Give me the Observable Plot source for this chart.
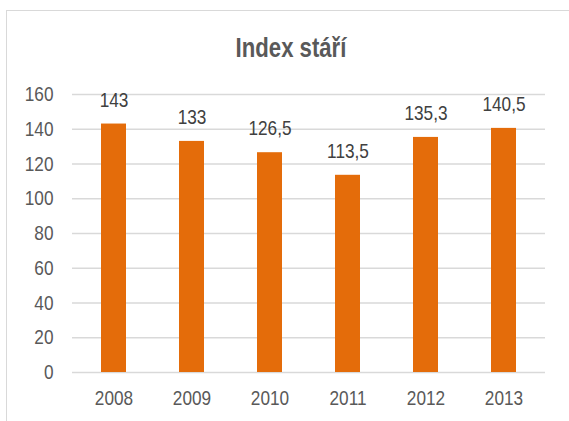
<!DOCTYPE html>
<html>
<head>
<meta charset="utf-8">
<script src="https://cdn.jsdelivr.net/npm/d3@7"></script>
<script src="https://cdn.jsdelivr.net/npm/@observablehq/plot@0.6"></script>
<style>
  html, body { margin: 0; padding: 0; background: #fff; overflow: hidden; }
  #wrap { position: relative; width: 569px; height: 421px; }
  #frame { position: absolute; left: 6px; top: 10px; width: 580px; height: 430px; border: 1px solid #d9d9d9; box-sizing: border-box; }
  #title { position: absolute; left: 6px; width: 570px; top: 35px; text-align: center; font-family: "Liberation Sans", Arial, sans-serif; font-weight: bold; font-size: 27px; line-height: 27px; color: #595959; transform: scaleX(0.82); transform-origin: 285px 0; }
  #chart { position: absolute; left: 0; top: 0; }
  #chart svg { font-family: "Liberation Sans", Arial, sans-serif; }
</style>
</head>
<body>
<div id="wrap">
  <div id="frame"></div>
  <div id="title">Index stáří</div>
  <div id="chart"></div>
</div>
<script>
const years = ["2008", "2009", "2010", "2011", "2012", "2013"];
const values = [143, 133, 126.5, 113.5, 135.3, 140.5];
const valueLabels = ["143", "133", "126,5", "113,5", "135,3", "140,5"];
const yTicks = [0, 20, 40, 60, 80, 100, 120, 140, 160];

const data = years.map((y, i) => ({year: y, value: values[i], label: valueLabels[i]}));

const chart = Plot.plot({
  width: 569,
  height: 421,
  marginLeft: 72,
  marginRight: 24,
  marginTop: 94,
  marginBottom: 49,
  style: {background: "transparent", fontSize: "21px", color: "#595959", overflow: "visible"},
  x: {domain: years, paddingInner: 0.68, paddingOuter: 0.34, label: null, tickSize: 0, tickPadding: 18},
  y: {domain: [0, 160], ticks: yTicks, label: null, tickSize: 0, tickPadding: 19},
  marks: [
    Plot.gridY(yTicks, {stroke: "#d9d9d9", strokeOpacity: 1, strokeWidth: 1.5}),
    Plot.barY(data, {x: "year", y: "value", fill: "#E46C0A"}),
    Plot.text(data, {x: "year", y: "value", text: "label", dy: -24, fill: "#404040", fontSize: 21})
  ]
});
document.getElementById("chart").appendChild(chart);

// Condense text horizontally (narrow font look), keeping each label's anchor point.
const SX = 0.82;
chart.querySelectorAll("text").forEach(t => {
  const g = document.createElementNS("http://www.w3.org/2000/svg", "g");
  t.parentNode.insertBefore(g, t);
  g.appendChild(t);
  const b = g.getBBox();
  const anchor = getComputedStyle(t).textAnchor;
  const ax = anchor === "end" ? b.x + b.width : anchor === "middle" ? b.x + b.width / 2 : b.x;
  g.setAttribute("transform", `translate(${ax},0) scale(${SX},1) translate(${-ax},0)`);
});
</script>
</body>
</html>
